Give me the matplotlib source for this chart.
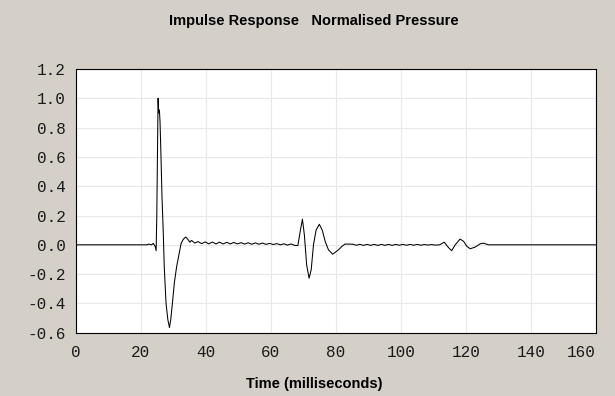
import matplotlib.pyplot as plt

# impulse response (time in ms, normalised pressure)
time_ms = [
    0.0, 22.0, 22.3, 23.3, 23.8, 24.4, 24.7, 24.9, 25.1, 25.3, 25.5, 25.7,
    25.9, 26.2, 26.5, 26.9, 27.2, 27.75, 28.3, 28.8, 29.2, 29.7, 30.3, 31.0,
    31.8, 32.4, 33.1, 33.8, 34.4, 35.1, 35.6, 36.6, 37.6, 38.7, 39.8, 40.9,
    42.0, 43.1, 44.2, 45.3, 46.4, 47.5, 48.6, 49.7, 50.8, 51.9, 53.0, 54.1,
    55.2, 56.3, 57.4, 58.5, 59.6, 60.7, 61.8, 62.9, 64.0, 65.1, 66.2, 67.3,
    68.3, 69.0, 69.7, 70.3, 71.0, 71.75, 72.4, 73.1, 73.9, 74.9, 75.8, 76.7,
    77.7, 79.0, 80.8, 81.8, 82.8, 84.0, 85.2, 86.3, 87.4, 88.5, 89.6, 90.7,
    91.8, 92.9, 94.0, 95.1, 96.2, 97.3, 98.4, 99.5, 100.6, 101.7, 102.8,
    103.9, 105.0, 106.1, 107.2, 108.3, 109.4, 110.5, 111.9, 113.3, 114.6,
    115.6, 116.7, 118.2, 119.3, 120.3, 121.3, 122.8, 124.4, 125.4, 126.9,
    160.0,
]
pressure = [
    0.0, 0.0, 0.005, 0.0, 0.01, -0.01, -0.04, 0.19, 0.6, 1.0, 0.9, 0.92,
    0.84, 0.6, 0.33, 0.08, -0.15, -0.40, -0.51, -0.565, -0.51, -0.40, -0.26, -0.15,
    -0.057, 0.011, 0.039, 0.053, 0.039, 0.018, 0.03, 0.012, 0.022, 0.008, 0.02, 0.006,
    0.019, 0.006, 0.018, 0.006, 0.017, 0.006, 0.016, 0.006, 0.015, 0.005, 0.014, 0.004,
    0.013, 0.004, 0.012, 0.003, 0.010, 0.002, 0.008, 0.0, 0.007, -0.002, 0.006, -0.004,
    -0.005, 0.09, 0.175, 0.067, -0.137, -0.228, -0.17, 0.0, 0.10, 0.14, 0.10, 0.023,
    -0.034, -0.064, -0.034, -0.012, 0.005, 0.005, 0.004, -0.003, 0.003, -0.004, 0.003, -0.004,
    0.003, -0.004, 0.003, -0.004, 0.003, -0.004, 0.003, -0.003, 0.003, -0.003, 0.003,
    -0.003, 0.003, -0.003, 0.002, -0.002, 0.002, -0.002, 0.0, 0.018, -0.018,
    -0.04, 0.0, 0.039, 0.023, -0.011, -0.027, -0.016, 0.007, 0.011, 0.0,
    0.0,
]

x_ticks = [0, 20, 40, 60, 80, 100, 120, 140, 160]
y_ticks = [-0.6, -0.4, -0.2, 0.0, 0.2, 0.4, 0.6, 0.8, 1.0, 1.2]

plt.rcParams["axes.unicode_minus"] = False

fig = plt.figure(figsize=(6.15, 3.96), dpi=100, facecolor="#d4d0c8")
ax = fig.add_axes([0.1233, 0.1598, 0.8458, 0.666])
ax.set_facecolor("white")

ax.plot(time_ms, pressure, color="black", linewidth=0.75)

ax.set_xlim(0, 160)
ax.set_ylim(-0.6, 1.2)
ax.set_xticks(x_ticks)
ax.set_yticks(y_ticks)
ax.set_xticklabels([str(t) for t in x_ticks])
ax.set_yticklabels([f"{v:.1f}" for v in y_ticks])
ax.grid(True, color="#e8e8e8", linewidth=0.8)
ax.set_axisbelow(True)
ax.tick_params(length=0, labelsize=11.5, labelcolor="#1a1a1a")
ax.tick_params(axis="x", pad=9)
ax.tick_params(axis="y", pad=7.5)
for lab in ax.get_xticklabels() + ax.get_yticklabels():
    lab.set_family("Liberation Mono")
# last x label sits flush with the right edge
ax.get_xticklabels()[-1].set_horizontalalignment("right")

for s in ax.spines.values():
    s.set_color("black")
    s.set_linewidth(0.8)

fig.text(0.511, 0.946, "Impulse Response   Normalised Pressure",
         ha="center", va="center", family="Liberation Sans",
         weight="bold", fontsize=10.5)
fig.text(0.511, 0.03, "Time (milliseconds)", ha="center", va="center",
         family="Liberation Sans", weight="bold", fontsize=10.5)

fig.savefig("out.png", dpi=100, facecolor=fig.get_facecolor())
